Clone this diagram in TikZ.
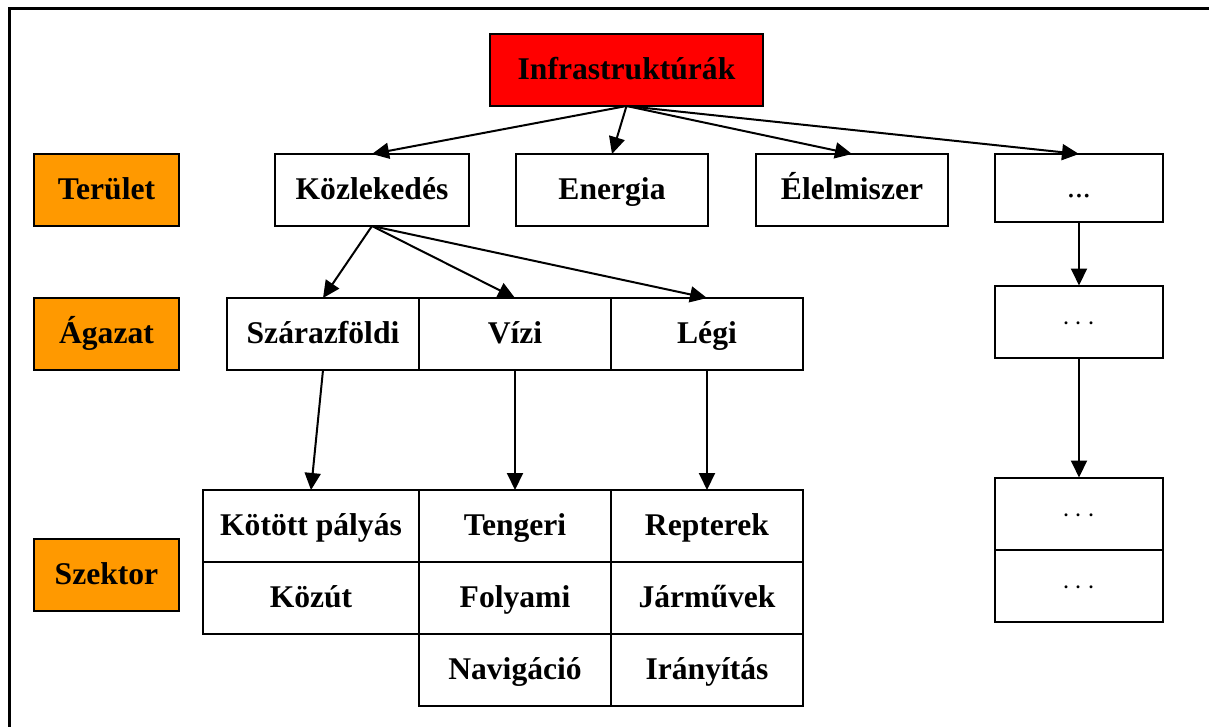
\documentclass[tikz,border=0pt]{standalone}
\usepackage{fontspec}
\setmainfont{Liberation Serif}
\usetikzlibrary{arrows.meta}
\definecolor{infrared}{RGB}{255,0,0}
\definecolor{levelorange}{RGB}{255,153,0}
\tikzset{
  box/.style={draw, line width=1pt, inner sep=0pt, outer sep=0pt,
    minimum height=36pt, text height=12.6pt, text depth=3.2pt,
    font=\fontsize{15.8}{19}\selectfont\bfseries},
  levelbox/.style={box, fill=levelorange, minimum width=72.5pt},
  areabox/.style={box, minimum width=96pt},
  cellbox/.style={box, minimum width=96pt},
  morebox/.style={box, minimum width=84pt, font=\fontsize{15.8}{19}\selectfont},
  link/.style={line width=1pt, -{Triangle[length=8.5pt, width=8pt]}}
}
\begin{document}
\begin{tikzpicture}[x=0.5pt, y=-0.5pt]
    \useasboundingbox (0,0) rectangle (1209,727);
    % Frame
    \draw[line width=1.5pt] (9,727) -- (9,9) -- (1209,9);

    % Top
    \node[box, fill=infrared, minimum width=136.5pt] (infra) at (626.5,70) {Infrastruktúrák};

    % Levels (left)
    \node[levelbox] (terulet) at (106.5,190) {Terület};
    \node[levelbox] (agazat)  at (106.5,334) {Ágazat};
    \node[levelbox] (szektor) at (106.5,575) {Szektor};

    % Areas
    \node[areabox, minimum width=97pt] (kozl) at (372,190) {Közlekedés};
    \node[areabox] (energia) at (612,190) {Energia};
    \node[areabox] (elelm)   at (852,190) {Élelmiszer};
    \node[morebox, minimum height=34pt] (more1) at (1079,188) {...};

    % Branches
    \node[cellbox] (szaraz) at (323,334) {Szárazföldi};
    \node[cellbox] (vizi)   at (515,334) {Vízi};
    \node[cellbox] (legi)   at (707,334) {Légi};
    \node[morebox] (more2)  at (1079,321.5) {$\cdots$};

    % Sectors
    \node[cellbox, minimum width=108pt] (kotott) at (311,526) {Kötött pályás};
    \node[cellbox, minimum width=108pt] (kozut)  at (311,598) {Közút};
    \node[cellbox] (tengeri) at (515,526) {Tengeri};
    \node[cellbox] (folyami) at (515,598) {Folyami};
    \node[cellbox] (navig)   at (515,670) {Navigáció};
    \node[cellbox] (repter)  at (707,526) {Repterek};
    \node[cellbox] (jarmu)   at (707,598) {Járművek};
    \node[cellbox] (irany)   at (707,670) {Irányítás};
    \node[morebox] (more3) at (1079,513.5) {$\cdots$};
    \node[morebox] (more4) at (1079,585.5) {$\cdots$};

    % Arrows
    \foreach \t in {kozl, energia, elelm, more1}
      \draw[link] (infra.south) -- (\t.north);
    \foreach \t in {szaraz, vizi, legi}
      \draw[link] (kozl.south) -- (\t.north);
    \draw[link] (szaraz.south) -- (kotott.north);
    \draw[link] (vizi.south) -- (tengeri.north);
    \draw[link] (legi.south) -- (repter.north);
    \draw[link] (more1.south) -- (more2.north);
    \draw[link] (more2.south) -- (more3.north);
\end{tikzpicture}
\end{document}
